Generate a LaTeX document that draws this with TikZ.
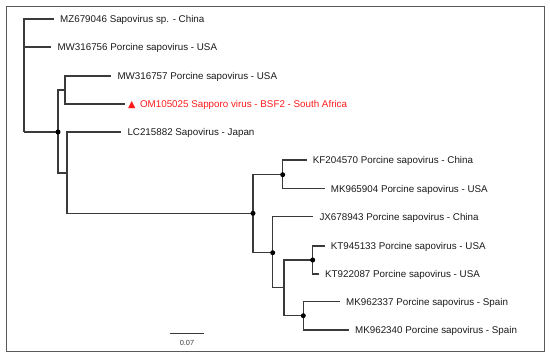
\documentclass[tikz,border=0pt]{standalone}
\usepackage{fontspec}
\setmainfont{Liberation Sans}
\newfontfamily\symfont{DejaVu Sans}
\definecolor{branch}{HTML}{3A3A3A}
\definecolor{framec}{HTML}{5A5A5A}
\definecolor{txt}{HTML}{1A1A1A}
\definecolor{redlab}{HTML}{FF1A1A}
\tikzset{
  branchline/.style={draw=branch, line width=1.2pt},
  leaf/.style={anchor=west, inner xsep=6pt, inner ysep=0pt, text height=7pt, text depth=0pt,
    font=\fontsize{9.8}{11}\selectfont, text=txt},
  redleaf/.style={leaf, inner xsep=3pt, text=redlab},
  dotnode/.style={fill=black, circle, inner sep=0pt, minimum size=5pt},
  framebox/.style={draw=framec, line width=1pt},
  scalelab/.style={font=\fontsize{7.4}{9}\selectfont, text=branch, inner sep=0pt}
}
\begin{document}
\begin{tikzpicture}[x=1pt,y=-1pt]
\useasboundingbox (0,0) rectangle (550,356);
\draw[framebox] (6,6) rectangle (544,351);
% internal nodes
\coordinate (r) at (24,132);
\coordinate (A) at (58,132);
\coordinate (P) at (65,90);
\coordinate (Q) at (67,173);
\coordinate (B) at (253,213.3);
\coordinate (C) at (282.7,174.7);
\coordinate (D) at (272.7,252.7);
\coordinate (E) at (284,287.3);
\coordinate (F) at (312.7,260);
\coordinate (G) at (303.3,315.7);
% leaves
\node[leaf] (l1) at (54,19) {MZ679046 Sapovirus sp. - China};
\node[leaf] (l2) at (51.3,47) {MW316756 Porcine sapovirus - USA};
\node[leaf] (l3) at (111.3,76) {MW316757 Porcine sapovirus - USA};
\node[redleaf] (l4) at (125,104) {{\symfont\fontsize{9.6}{10}\selectfont ▲}\hspace{4.5pt}OM105025 Sapporo virus - BSF2 - South Africa};
\node[leaf] (l5) at (121.3,132) {LC215882 Sapovirus - Japan};
\node[leaf] (l6) at (306.7,160) {KF204570 Porcine sapovirus - China};
\node[leaf] (l7) at (324.7,188.7) {MK965904 Porcine sapovirus - USA};
\node[leaf] (l8) at (313.3,216.7) {JX678943 Porcine sapovirus - China};
\node[leaf] (l9) at (324.7,246) {KT945133 Porcine sapovirus - USA};
\node[leaf] (l10) at (319,274) {KT922087 Porcine sapovirus - USA};
\node[leaf] (l11) at (340,301.7) {MK962337 Porcine sapovirus - Spain};
\node[leaf] (l12) at (349,330) {MK962340 Porcine sapovirus - Spain};
% branches
\draw[branchline] (r) |- (l1.west);
\draw[branchline] (r) |- (l2.west);
\draw[branchline] (r) -- (A);
\draw[branchline] (A) |- (P);
\draw[branchline] (A) |- (Q);
\draw[branchline] (P) |- (l3.west);
\draw[branchline] (P) |- (l4.west);
\draw[branchline] (Q) |- (l5.west);
\draw[branchline] (Q) |- (B);
\draw[branchline] (B) |- (C);
\draw[branchline] (B) |- (D);
\draw[branchline] (C) |- (l6.west);
\draw[branchline] (C) |- (l7.west);
\draw[branchline] (D) |- (l8.west);
\draw[branchline] (D) |- (E);
\draw[branchline] (E) |- (F);
\draw[branchline] (E) |- (G);
\draw[branchline] (F) |- (l9.west);
\draw[branchline] (F) |- (l10.west);
\draw[branchline] (G) |- (l11.west);
\draw[branchline] (G) |- (l12.west);
% dots
\foreach \n in {A,B,C,D,F,G} \node[dotnode] at (\n) {};
% scale bar
\coordinate (sb1) at (170,333.7);
\coordinate (sb2) at (204.3,333.7);
\draw[branchline] (sb1) -- (sb2);
\node[scalelab] (sbl) at (187,343) {0.07};
\end{tikzpicture}
\end{document}
